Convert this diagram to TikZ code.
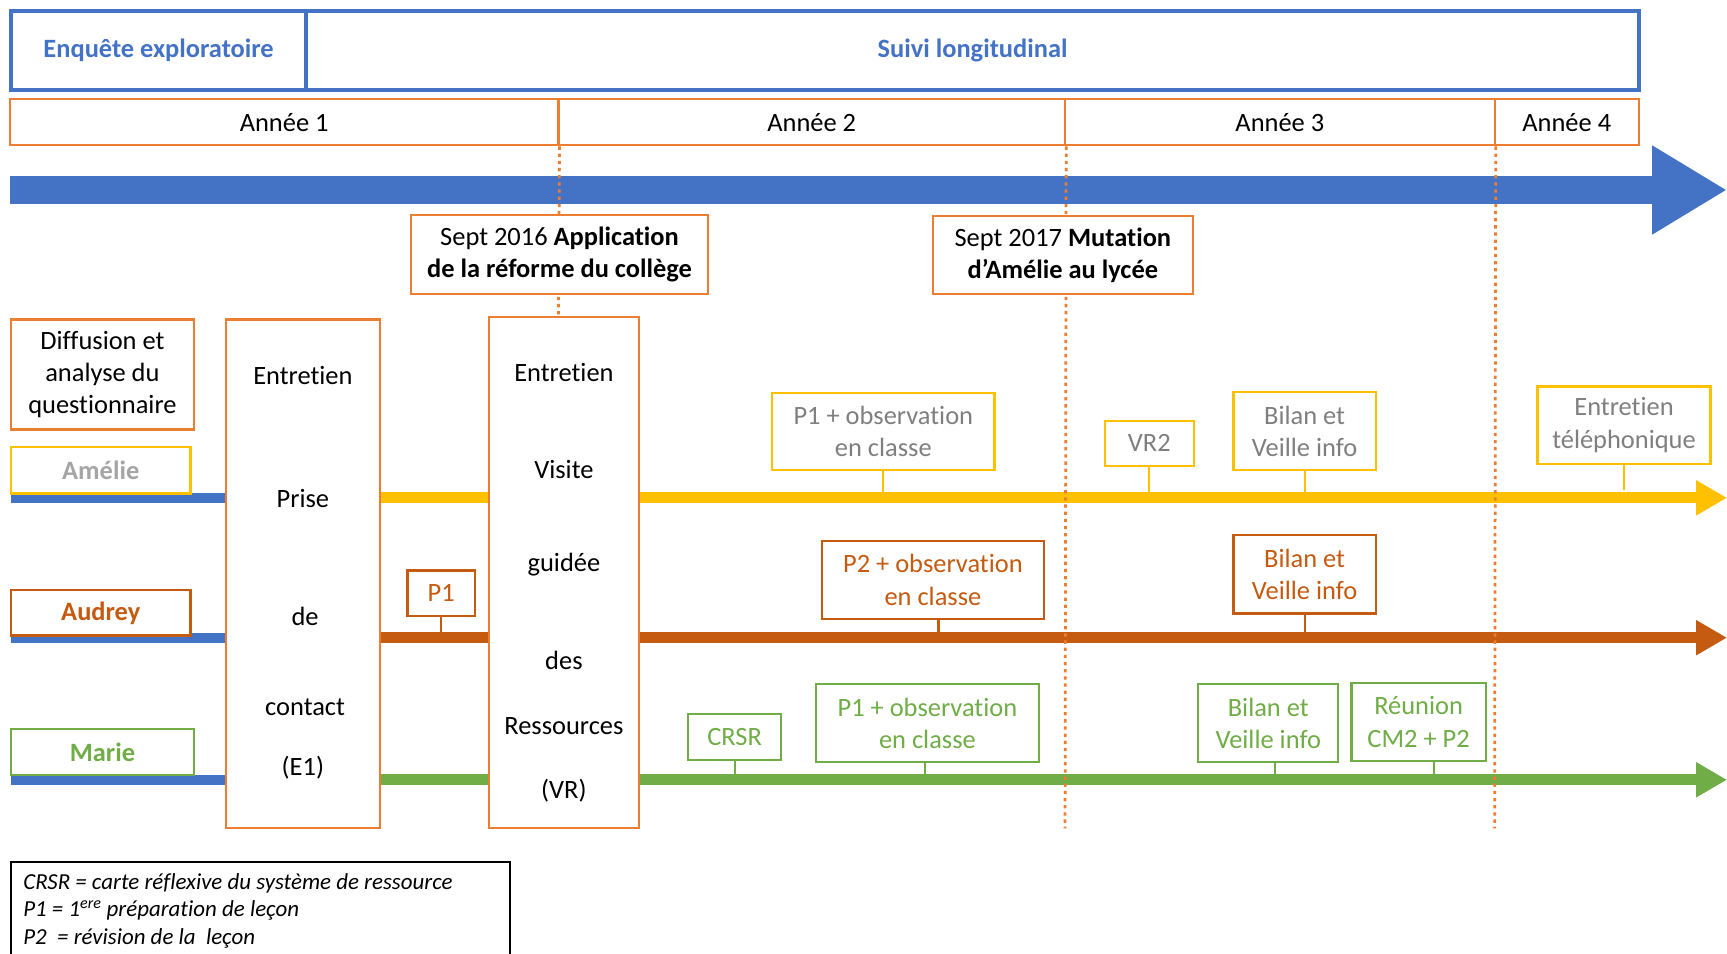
\documentclass[tikz,border=0pt]{standalone}
\usepackage{fontspec}
\setmainfont{Carlito}[Ligatures=NoCommon]
\usetikzlibrary{arrows.meta}
\definecolor{cblue}{HTML}{4472C4}
\definecolor{corange}{HTML}{ED7D31}
\definecolor{cyel}{HTML}{FFC000}
\definecolor{cdark}{HTML}{C55A11}
\definecolor{cgreen}{HTML}{70AD47}
\definecolor{cgray}{HTML}{7F7F7F}
\definecolor{clgray}{HTML}{A5A5A5}
\begin{document}
\begin{tikzpicture}[x=1pt,y=-1pt,
  font=\fontsize{24}{29.3}\selectfont,
  box/.style={draw, line width=2pt, fill=white, inner sep=0pt, align=center},
  topbox/.style={box, draw=cblue, line width=3.5pt, text=cblue, font=\fontsize{24}{29.3}\selectfont\bfseries, minimum height=72pt},
  yearbox/.style={box, draw=corange, minimum height=42pt},
  obox/.style={box, draw=corange},
  abox/.style={box, draw=cyel, text=cgray},
  bbox/.style={box, draw=cdark, text=cdark},
  mbox/.style={box, draw=cgreen, text=cgreen},
  lbl/.style={box, font=\fontsize{24}{29.3}\selectfont\bfseries},
  word/.style={inner sep=0pt},
  dots/.style={draw=corange, line width=2.5pt, dash pattern=on 3pt off 3.5pt},
  pline/.style={line width=10pt, -{Triangle[length=28pt,width=30pt]}},
  bline/.style={draw=cblue, line width=9pt},
  stem/.style={line width=2pt}
]
\useasboundingbox (0,0) rectangle (1568,866);

% top boxes
\node[topbox, minimum width=268pt] (enq) at (144,46) {Enquête exploratoire};
\node[topbox, minimum width=1210pt] (suivi) at (883,46) {Suivi longitudinal};

% year boxes
\node[yearbox, minimum width=498pt] (y1) at (258,111) {Année 1};
\node[yearbox, minimum width=460pt] (y2) at (737,111) {Année 2};
\node[yearbox, minimum width=390pt] (y3) at (1162,111) {Année 3};
\node[yearbox, minimum width=131pt] (y4) at (1422.5,111) {Année 4};

% big arrow
\coordinate (bigS) at (9,172.5);
\coordinate (bigE) at (1568,172.5);
\draw[cblue, line width=25pt, -{Triangle[length=68pt,width=76pt]}] (bigS) -- (bigE);

% participant lines
\coordinate (aB) at (10,452);
\coordinate (aS) at (345,452);
\coordinate (aE) at (1568,452);
\coordinate (bB) at (10,579);
\coordinate (bS) at (345,579);
\coordinate (bE) at (1568,579);
\coordinate (mB) at (10,708);
\coordinate (mS) at (345,708);
\coordinate (mE) at (1568,708);
\draw[cyel, pline] (aS) -- (aE);
\draw[cdark, pline] (bS) -- (bE);
\draw[cgreen, pline] (mS) -- (mE);

% tall boxes
\node[obox, minimum width=140pt, minimum height=462pt] (e1) at (275,521) {};
\node[obox, minimum width=136pt, minimum height=464pt] (vr) at (512,520) {};
\draw[bline] (aB) -- (aB -| e1.west);
\draw[bline] (bB) -- (bB -| e1.west);
\draw[bline] (mB) -- (mB -| e1.west);

% dotted year separators
\coordinate (d1) at (507,288);
\coordinate (d2) at (967,752);
\coordinate (d3) at (1357,752);
\draw[dots] (y1.south east) -- (d1);
\draw[dots] (y2.south east) -- (d2);
\draw[dots] (y3.south east) -- (d3);

% event boxes
\node[obox, minimum width=270pt, minimum height=72pt] (ev1) at (508,231)
  {Sept 2016 \textbf{Application}\\\textbf{de la réforme du collège}};
\node[obox, minimum width=236pt, minimum height=71pt] (ev2) at (965,231.5)
  {Sept 2017 \textbf{Mutation}\\\textbf{d’Amélie au lycée}};

% diffusion
\node[obox, minimum width=166pt, minimum height=100pt, font=\fontsize{24}{29}\selectfont] (diff) at (93,340)
  {Diffusion et\\analyse du\\questionnaire};

% texts in tall boxes
\node[word] (e1a) at (275,341) {Entretien};
\node[word] (e1b) at (275,453) {Prise};
\node[word] (e1c) at (277,560) {de};
\node[word] (e1d) at (277,642) {contact};
\node[word] (e1e) at (275,697) {(E1)};
\node[word] (vra) at (512,338) {Entretien};
\node[word] (vrb) at (512,426) {Visite};
\node[word] (vrc) at (512,513) {guidée};
\node[word] (vrd) at (512,600) {des};
\node[word] (vre) at (512,659) {Ressources};
\node[word] (vrf) at (512,718) {(VR)};

% labels
\node[lbl, draw=cyel, text=clgray, minimum width=163pt, minimum height=42pt] (amelie) at (91.5,427) {Amélie};
\node[lbl, draw=cdark, text=cdark, minimum width=163pt, minimum height=41pt] (audrey) at (91.5,556.5) {Audrey};
\node[lbl, draw=cgreen, text=cgreen, minimum width=166pt, minimum height=42pt] (marie) at (93,683) {Marie};

% Amelie events
\node[abox, minimum width=202pt, minimum height=70pt] (a1) at (802,392) {P1 + observation\\en classe};
\node[abox, minimum width=81pt, minimum height=41pt] (a2) at (1043.5,402.5) {VR2};
\node[abox, minimum width=129pt, minimum height=71pt] (a3) at (1184.5,391.5) {Bilan et\\Veille info};
\node[abox, minimum width=157pt, minimum height=70pt] (a4) at (1474.5,386) {Entretien\\téléphonique};
\foreach \n in {a1,a2,a3}{\draw[cyel, stem] (\n.south) -- (\n.south |- aE);}
\coordinate (a4s) at (1474.5,445);
\draw[cyel, stem] (a4.south) -- (a4s);

% Audrey events
\node[bbox, minimum width=61pt, minimum height=41pt] (b1) at (400.5,538.5) {P1};
\node[bbox, minimum width=202pt, minimum height=71pt] (b2) at (847,526.5) {P2 + observation\\en classe};
\node[bbox, minimum width=129pt, minimum height=71pt] (b3) at (1184.5,521.5) {Bilan et\\Veille info};
\draw[cdark, stem] (b1.south) -- (b1.south |- bE);
\draw[cdark, stem] ([xshift=5pt]b2.south) -- ([xshift=5pt]b2.south |- bE);
\draw[cdark, stem] (b3.south) -- (b3.south |- bE);

% Marie events
\node[mbox, minimum width=84pt, minimum height=42pt] (m1) at (667,669) {CRSR};
\node[mbox, minimum width=202pt, minimum height=71pt] (m2) at (842,656.5) {P1 + observation\\en classe};
\node[mbox, minimum width=127pt, minimum height=71pt] (m3) at (1151.5,656.5) {Bilan et\\Veille info};
\node[mbox, minimum width=122pt, minimum height=71pt] (m4) at (1288,655.5) {Réunion\\CM2 + P2};
\draw[cgreen, stem] (m1.south) -- (m1.south |- mE);
\draw[cgreen, stem] ([xshift=-2pt]m2.south) -- ([xshift=-2pt]m2.south |- mE);
\draw[cgreen, stem] ([xshift=6pt]m3.south) -- ([xshift=6pt]m3.south |- mE);
\draw[cgreen, stem] ([xshift=14pt]m4.south) -- ([xshift=14pt]m4.south |- mE);

% legend
\node[draw=black, line width=1.5pt, minimum width=453pt, minimum height=98pt, inner sep=0pt, anchor=north west] (legbox) at (9,782) {};
\node[inner sep=0pt, anchor=west, align=left, font=\fontsize{20.8}{25}\selectfont\itshape] (legtxt) at (21,827)
  {CRSR = carte réflexive du système de ressource\\
   P1 = 1\textsuperscript{ere} préparation de leçon\\
   P2\ \ = révision de la\ \ leçon};
\end{tikzpicture}
\end{document}
